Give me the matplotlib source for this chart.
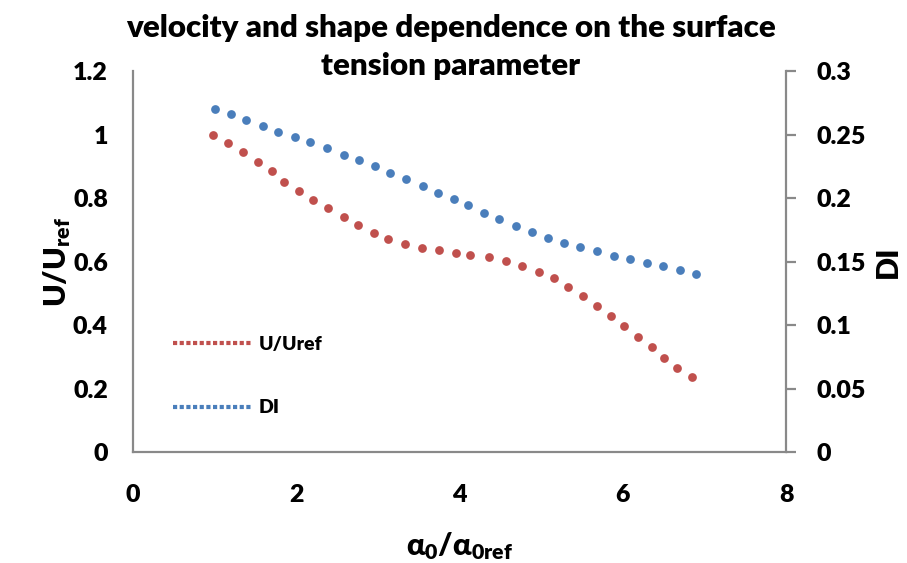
import matplotlib
matplotlib.use("Agg")
import matplotlib.pyplot as plt
from matplotlib.lines import Line2D
from matplotlib.ticker import FuncFormatter, FixedLocator

# surface tension parameter (alpha0 / alpha0ref) for each series
x_u = [0.98, 1.17, 1.35, 1.53, 1.70, 1.85, 2.04, 2.21, 2.39, 2.58, 2.76,
       2.95, 3.13, 3.33, 3.54, 3.75, 3.96, 4.13, 4.36, 4.57, 4.77, 4.97,
       5.16, 5.33, 5.51, 5.68, 5.85, 6.02, 6.19, 6.36, 6.51, 6.67, 6.85]
u_ratio = [1.00, 0.975, 0.945, 0.915, 0.885, 0.853, 0.823, 0.795, 0.769,
           0.742, 0.716, 0.692, 0.672, 0.655, 0.645, 0.636, 0.628, 0.623,
           0.614, 0.603, 0.588, 0.569, 0.548, 0.521, 0.492, 0.461, 0.430,
           0.397, 0.365, 0.331, 0.299, 0.267, 0.237]

x_di = [1.00, 1.20, 1.39, 1.59, 1.78, 1.98, 2.17, 2.38, 2.58, 2.77, 2.96,
        3.15, 3.35, 3.55, 3.74, 3.93, 4.11, 4.30, 4.49, 4.69, 4.89, 5.09,
        5.28, 5.48, 5.68, 5.89, 6.09, 6.30, 6.49, 6.70, 6.90]
di = [0.2705, 0.2664, 0.2620, 0.2573, 0.2526, 0.2484, 0.2442, 0.2395,
      0.2345, 0.2303, 0.2253, 0.2203, 0.2153, 0.2098, 0.2043, 0.1995,
      0.1946, 0.1888, 0.1836, 0.1786, 0.1736, 0.1688, 0.1649, 0.1615,
      0.1584, 0.1550, 0.1523, 0.1495, 0.1466, 0.1440, 0.1408]

x_ticks = [0, 2, 4, 6, 8]
u_ticks = [0, 0.2, 0.4, 0.6, 0.8, 1.0, 1.2]
di_ticks = [0, 0.05, 0.1, 0.15, 0.2, 0.25, 0.3]

RED = "#C0504D"
BLUE = "#4A7EBB"
AXIS_GRAY = "#898989"
FONT = "Lato"
WEIGHT = "heavy"

plt.rcParams["font.family"] = [FONT, "DejaVu Sans"]
plt.rcParams["font.weight"] = WEIGHT
plt.rcParams["mathtext.fontset"] = "custom"
plt.rcParams["mathtext.rm"] = f"{FONT}:{WEIGHT}"
plt.rcParams["mathtext.it"] = f"{FONT}:{WEIGHT}"
plt.rcParams["mathtext.bf"] = f"{FONT}:{WEIGHT}"

fig = plt.figure(figsize=(9.07, 5.63), dpi=100)
ax = fig.add_axes([0.1466, 0.1963, 0.72, 0.677])
ax2 = ax.twinx()

ax.plot(x_u, u_ratio, linestyle="none", marker="o", markersize=6.3,
        color=RED, markeredgewidth=0)
ax2.plot(x_di, di, linestyle="none", marker="o", markersize=6.3,
         color=BLUE, markeredgewidth=0)

ax.set_xlim(0, 8)
ax.set_ylim(0, 1.2)
ax2.set_ylim(0, 0.3)

fmt = FuncFormatter(lambda v, p: f"{v:g}")
ax.xaxis.set_major_locator(FixedLocator(x_ticks))
ax.yaxis.set_major_locator(FixedLocator(u_ticks))
ax2.yaxis.set_major_locator(FixedLocator(di_ticks))
for a in (ax.xaxis, ax.yaxis, ax2.yaxis):
    a.set_major_formatter(fmt)

for a in (ax, ax2):
    for s in a.spines.values():
        s.set_visible(False)
ax.spines["left"].set_visible(True)
ax.spines["bottom"].set_visible(True)
ax2.spines["right"].set_visible(True)
for s in (ax.spines["left"], ax.spines["bottom"], ax2.spines["right"]):
    s.set_color(AXIS_GRAY)
    s.set_linewidth(1.6)

ax.tick_params(axis="x", length=0, pad=23, labelsize=18)
ax.tick_params(axis="y", length=0, pad=18, labelsize=18)
ax2.tick_params(axis="y", length=7, width=1.6, color=AXIS_GRAY, pad=15,
                labelsize=18)
for lbl in ax.get_xticklabels() + ax.get_yticklabels() + ax2.get_yticklabels():
    lbl.set_fontweight(WEIGHT)

ax.set_xlabel(r"$\alpha_0/\alpha_{0ref}$", fontsize=22, labelpad=17)
ax.set_ylabel(r"U/U$_{\mathregular{ref}}$", fontsize=22, labelpad=0,
              fontweight=WEIGHT)
ax2.set_ylabel("DI", fontsize=22, labelpad=6, fontweight=WEIGHT,
               rotation=90)

fig.text(0.497, 0.95, "velocity and shape dependence on the surface",
         ha="center", va="center", fontsize=22.5, fontweight=WEIGHT)
fig.text(0.497, 0.882, "tension parameter",
         ha="center", va="center", fontsize=22.5, fontweight=WEIGHT)

handles = [
    Line2D([], [], color=RED, linestyle=(0, (1, 0.6)), linewidth=3),
    Line2D([], [], color=BLUE, linestyle=(0, (1, 0.6)), linewidth=3),
]
leg = ax.legend(handles, ["U/Uref", "DI"], loc="upper left",
                bbox_to_anchor=(0.035, 0.352), frameon=False,
                handlelength=4.0, handletextpad=0.4, labelspacing=2.4,
                prop={"family": FONT, "weight": WEIGHT, "size": 14})

fig.savefig("out.png", dpi=100)
